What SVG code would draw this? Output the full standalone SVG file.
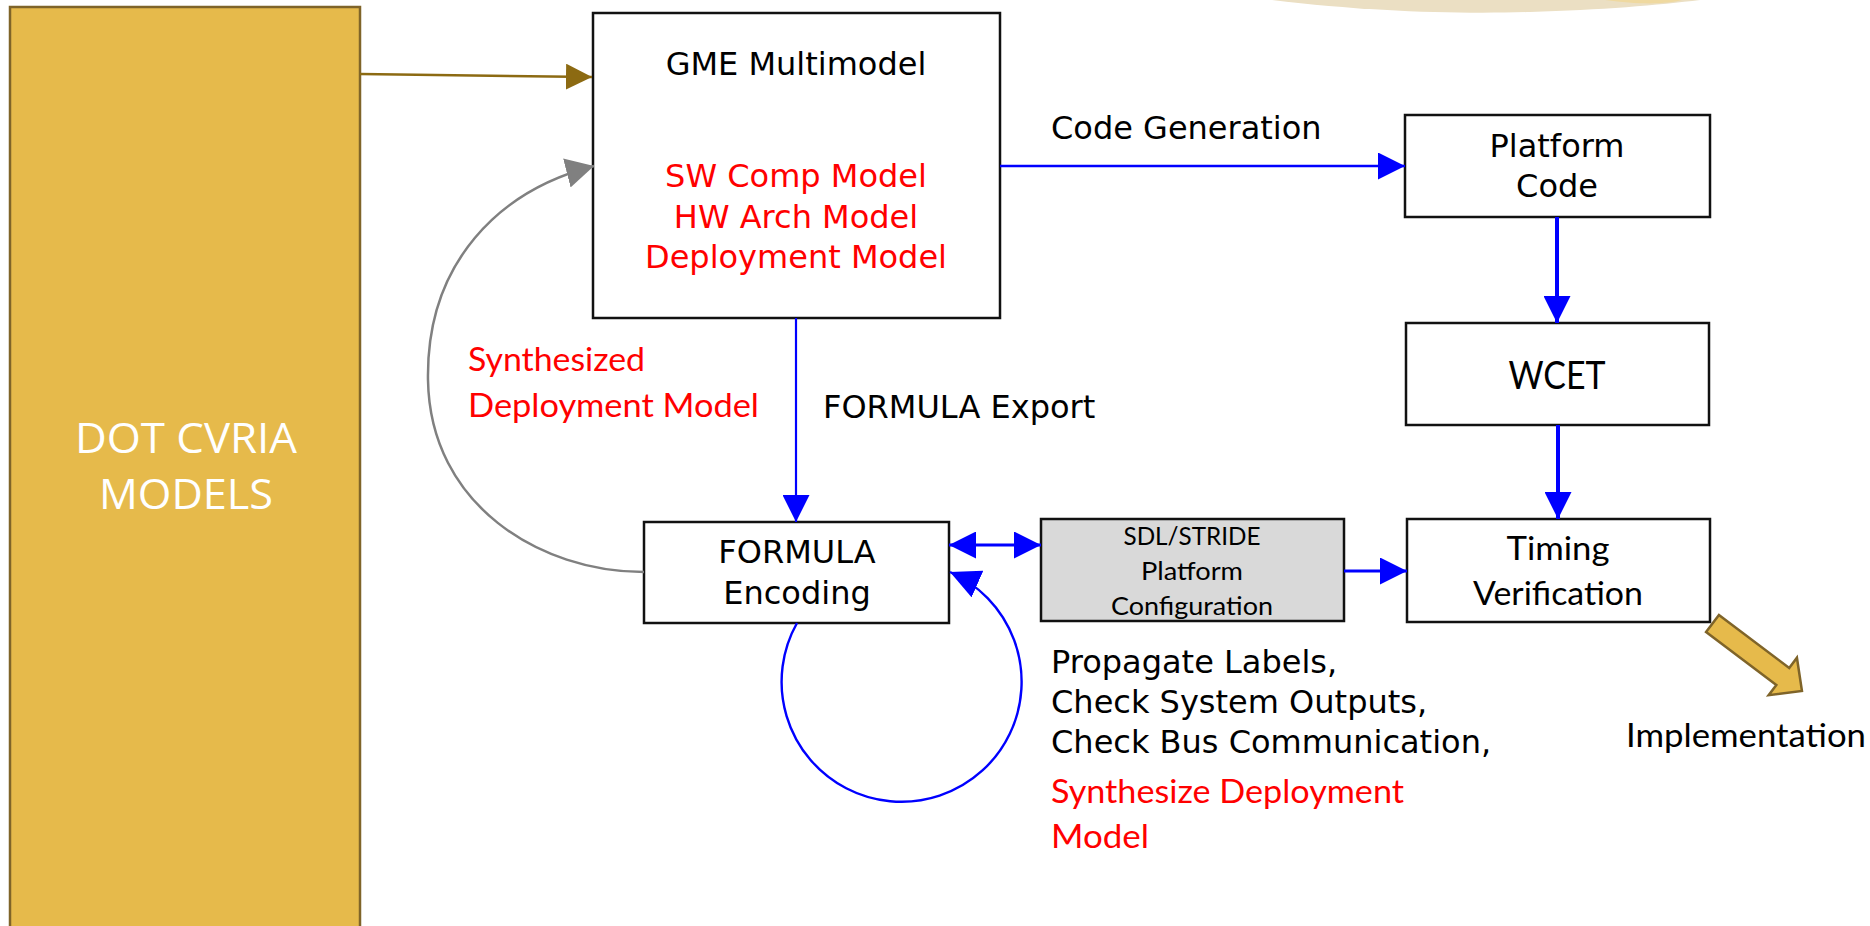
<svg xmlns="http://www.w3.org/2000/svg" width="1870" height="926" viewBox="0 0 1870 926">
<defs>
<style>
.box{fill:#fff;stroke:#111;stroke-width:2.5}
.gray{fill:#d9d9d9}
.dv{font-family:"DejaVu Sans",sans-serif;font-size:32px;fill:#000}
.dvm{text-anchor:middle}
.cal{font-family:Lato,"Liberation Sans",sans-serif;fill:#000}
.red{fill:#ff0000}
.blue{fill:none;stroke:#0000ff}
</style>
<marker id="ab" markerUnits="userSpaceOnUse" markerWidth="27" markerHeight="27" refX="27" refY="13.5" orient="auto-start-reverse">
<path d="M0,0 L27,13.5 L0,27 z" fill="#0000ff"/>
</marker>
<marker id="ab2" markerUnits="userSpaceOnUse" markerWidth="30" markerHeight="29" refX="30" refY="14.5" orient="auto">
<path d="M0,0 L30,14.5 L0,29 z" fill="#0000ff"/>
</marker>
<marker id="abr" markerUnits="userSpaceOnUse" markerWidth="26" markerHeight="26" refX="26" refY="13" orient="auto">
<path d="M0,0 L26,13 L0,26 z" fill="#8c6a12"/>
</marker>
<marker id="agr" markerUnits="userSpaceOnUse" markerWidth="28" markerHeight="30" refX="28" refY="15" orient="auto">
<path d="M0,0 L28,15 L0,30 z" fill="#808080"/>
</marker>
</defs>
<rect width="1870" height="926" fill="#fff"/>

<g id="decor">
<path d="M1272 0 C1370 12 1460 14 1530 12 C1600 10 1660 5 1700 0 Z" fill="#ebdfc3"/>
<path d="M1605 0 C1640 5 1668 4 1682 0 Z" fill="#efd9a0"/>
</g>

<g id="dot-cvria">
<rect x="10" y="7" width="350" height="940" fill="#e6ba4b" stroke="#7f6429" stroke-width="2.5"/>
<text x="186" y="453" font-family="'Open Sans',sans-serif" font-size="42" fill="#fff" text-anchor="middle" textLength="222" lengthAdjust="spacingAndGlyphs">DOT CVRIA</text>
<text x="186" y="509" font-family="'Open Sans',sans-serif" font-size="42" fill="#fff" text-anchor="middle" textLength="174" lengthAdjust="spacingAndGlyphs">MODELS</text>
</g>

<g id="gme">
<rect class="box" x="593" y="13" width="407" height="305"/>
<text class="dv dvm" x="796" y="75">GME Multimodel</text>
<text class="dv dvm red" x="796" y="187">SW Comp Model</text>
<text class="dv dvm red" x="796" y="228">HW Arch Model</text>
<text class="dv dvm red" x="796" y="268">Deployment Model</text>
</g>

<g id="platform-code">
<rect class="box" x="1405" y="115" width="305" height="102"/>
<text class="dv dvm" x="1557" y="157">Platform</text>
<text class="dv dvm" x="1557" y="197">Code</text>
</g>

<g id="wcet">
<rect class="box" x="1406" y="323" width="303" height="102"/>
<text class="cal" x="1557" y="389" font-size="38" text-anchor="middle" textLength="97" lengthAdjust="spacingAndGlyphs">WCET</text>
</g>

<g id="timing">
<rect class="box" x="1407" y="519" width="303" height="103"/>
<text class="cal" x="1558" y="560" font-size="32" text-anchor="middle" textLength="103" lengthAdjust="spacingAndGlyphs">Timing</text>
<text class="cal" x="1558" y="605" font-size="32" text-anchor="middle" textLength="170" lengthAdjust="spacingAndGlyphs">Verification</text>
</g>

<g id="formula">
<rect class="box" x="644" y="522" width="305" height="101"/>
<text class="dv dvm" x="797" y="563">FORMULA</text>
<text class="dv dvm" x="797" y="604">Encoding</text>
</g>

<g id="sdl">
<rect class="box gray" x="1041" y="519" width="303" height="102"/>
<text class="cal" x="1192" y="545" font-size="25" text-anchor="middle" textLength="137" lengthAdjust="spacingAndGlyphs">SDL/STRIDE</text>
<text class="cal" x="1192" y="580" font-size="25" text-anchor="middle" textLength="102" lengthAdjust="spacingAndGlyphs">Platform</text>
<text class="cal" x="1192" y="615" font-size="25" text-anchor="middle" textLength="162" lengthAdjust="spacingAndGlyphs">Configuration</text>
</g>

<g id="implementation">
<polygon points="0,-10.7 88,-10.7 88,-23.5 112,0 88,23.5 88,10.7 0,10.7" transform="translate(1712.5,623.5) rotate(37)" fill="#e6ba4b" stroke="#7f6429" stroke-width="2.5" stroke-linejoin="miter"/>
<text class="cal" x="1626" y="747" font-size="32" textLength="240" lengthAdjust="spacingAndGlyphs">Implementation</text>
</g>

<g id="connectors">
<path d="M360 74 L592 77" fill="none" stroke="#8c6a12" stroke-width="2.5" marker-end="url(#abr)"/>
<path d="M644 572 C540 572 430 505 428 380 C426 262 500 190 594 166" fill="none" stroke="#808080" stroke-width="2.5" marker-end="url(#agr)"/>
<path class="blue" d="M1000 166 H1405" stroke-width="2.7" marker-end="url(#ab)"/>
<path class="blue" d="M796 318 V522" stroke-width="2.2" marker-end="url(#ab)"/>
<path class="blue" d="M1557 217 V323" stroke-width="4" marker-end="url(#ab)"/>
<path class="blue" d="M1558 425 V519" stroke-width="4" marker-end="url(#ab)"/>
<path class="blue" d="M949 545 H1041" stroke-width="3" marker-start="url(#ab)" marker-end="url(#ab)"/>
<path class="blue" d="M1344 571 H1407" stroke-width="3" marker-end="url(#ab)"/>
<path class="blue" d="M797 623 A120 120 0 1 0 950 572" stroke-width="2.4" marker-end="url(#ab2)"/>
</g>

<g id="labels">
<text class="dv" x="1051" y="139">Code Generation</text>
<text class="dv" x="823" y="418">FORMULA Export</text>
<text class="cal red" x="468" y="371" font-size="33" textLength="177" lengthAdjust="spacingAndGlyphs">Synthesized</text>
<text class="cal red" x="468" y="417" font-size="33" textLength="291" lengthAdjust="spacingAndGlyphs">Deployment Model</text>
<text class="dv" x="1051" y="673">Propagate Labels,</text>
<text class="dv" x="1051" y="713">Check System Outputs,</text>
<text class="dv" x="1051" y="753">Check Bus Communication,</text>
<text class="cal red" x="1051" y="803" font-size="33" textLength="353" lengthAdjust="spacingAndGlyphs">Synthesize Deployment</text>
<text class="cal red" x="1051" y="848" font-size="33" textLength="98" lengthAdjust="spacingAndGlyphs">Model</text>
</g>
</svg>
